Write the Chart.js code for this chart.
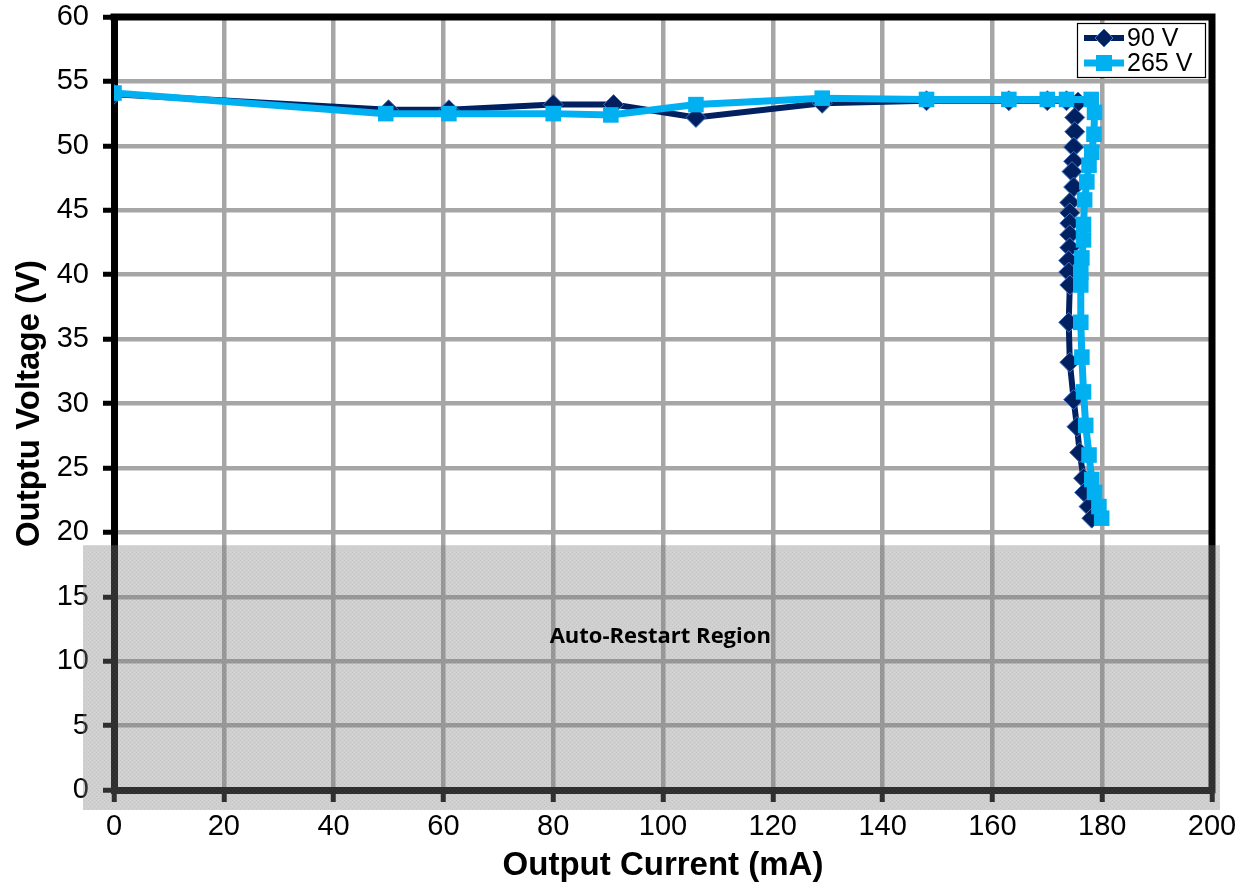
<!DOCTYPE html>
<html><head><meta charset="utf-8">
<script src="https://cdn.jsdelivr.net/npm/chart.js@4.4.1/dist/chart.umd.min.js"></script>
<style>html,body{margin:0;padding:0;background:#fff}#wrap{width:1250px;height:890px;position:relative}</style>
</head><body><div id="wrap"><canvas id="c" width="1250" height="890"></canvas></div>
<script>
// ---- data ----
const seriesNames = ['90 V', '265 V'];
const current90 = [0, 50, 61, 80, 91, 106, 129, 148, 163, 170, 173.5, 175.6, 175, 175, 174.8, 174.8, 174.5, 174.8, 174.1, 174.1, 174.1, 174.1, 174.1, 173.9, 173.9, 174.1, 173.9, 174.1, 174.8, 175.4, 175.9, 176.6, 176.8, 177.6, 178.1];
const voltage90 = [54.0, 52.8, 52.8, 53.2, 53.2, 52.2, 53.3, 53.5, 53.5, 53.5, 53.5, 53.4, 52.2, 51.1, 49.9, 48.8, 48.0, 46.8, 45.6, 44.8, 44.0, 43.1, 42.1, 41.1, 40.2, 39.2, 36.3, 33.2, 30.3, 28.2, 26.2, 24.2, 23.1, 22.0, 21.1];
const current265 = [0, 49.5, 61, 80, 90.5, 106, 129, 148, 163, 170, 173.5, 178, 178.6, 178.5, 178.1, 177.6, 177.2, 176.8, 176.6, 176.6, 176.3, 176.1, 176.1, 176.1, 176.3, 176.6, 177.0, 177.6, 178.1, 178.6, 179.4, 179.9];
const voltage265 = [54.1, 52.5, 52.5, 52.5, 52.4, 53.2, 53.7, 53.6, 53.6, 53.6, 53.6, 53.6, 52.6, 50.9, 49.5, 48.5, 47.2, 45.8, 43.9, 42.7, 41.3, 40.2, 39.2, 36.3, 33.6, 30.9, 28.3, 26.0, 24.1, 23.1, 22.0, 21.1];
const xTickRange = [0, 200, 20];   // min, max, step
const yTickRange = [0, 60, 5];
const xTitle = 'Output Current (mA)';
const yTitle = 'Outptu Voltage (V)';
const regionLabel = 'Auto-Restart Region';
const regionMaxVoltage = 19;

const navy = '#002060', sky = '#00B0F0';
const toPts = (xs, ys) => xs.map((x, i) => ({x, y: ys[i]}));

function makePattern(ctx) {
  const c = document.createElement('canvas'); c.width = 4; c.height = 4;
  const g = c.getContext('2d');
  g.fillStyle = 'rgba(128,128,128,0.37)'; g.fillRect(0, 0, 4, 4);
  g.fillStyle = 'rgba(0,0,0,0.05)';
  g.fillRect(0, 0, 1, 1); g.fillRect(2, 2, 1, 1);
  g.fillStyle = 'rgba(255,255,255,0.05)';
  g.fillRect(2, 0, 1, 1); g.fillRect(0, 2, 1, 1);
  return ctx.createPattern(c, 'repeat');
}

const decor = {
  id: 'decor',
  beforeDatasetsDraw(chart) {
    const {ctx, chartArea: a} = chart;
    ctx.save();
    ctx.strokeStyle = '#000'; ctx.lineWidth = 7;
    ctx.beginPath();
    ctx.moveTo(a.left - 3.5, a.top); ctx.lineTo(a.right, a.top); ctx.lineTo(a.right, a.bottom + 3.5);
    ctx.stroke();
    ctx.restore();
  },
  afterDatasetsDraw(chart) {
    const {ctx, chartArea: a} = chart;
    const bx = a.right - 135, by = a.top + 6, bw = 129, bh = 55;
    ctx.save();
    ctx.fillStyle = '#fff'; ctx.fillRect(bx, by, bw, bh);
    ctx.strokeStyle = '#000'; ctx.lineWidth = 1.2; ctx.strokeRect(bx + 0.5, by + 0.5, bw - 1, bh - 1);
    const rows = [{c: navy, w: 6, y: by + 15, m: 'd'}, {c: sky, w: 7, y: by + 40, m: 's'}];
    rows.forEach((r, i) => {
      ctx.strokeStyle = r.c; ctx.lineWidth = r.w; ctx.lineCap = 'butt';
      ctx.beginPath(); ctx.moveTo(bx + 7, r.y); ctx.lineTo(bx + 47, r.y); ctx.stroke();
      const cx = bx + 27;
      ctx.fillStyle = r.c;
      if (r.m === 'd') {
        ctx.beginPath(); ctx.moveTo(cx - 9, r.y); ctx.lineTo(cx, r.y - 9); ctx.lineTo(cx + 9, r.y); ctx.lineTo(cx, r.y + 9); ctx.closePath();
        ctx.fill(); ctx.strokeStyle = '#4472C4'; ctx.lineWidth = 1; ctx.stroke();
      } else {
        ctx.fillRect(cx - 8, r.y - 8, 16, 16);
      }
      ctx.fillStyle = '#000'; ctx.font = '25px "Liberation Sans", Arial, sans-serif';
      ctx.textBaseline = 'middle'; ctx.textAlign = 'left';
      ctx.fillText(seriesNames[i], bx + 50, r.y + 1);
    });
    ctx.restore();
  },
  afterDraw(chart) {
    const {ctx, chartArea: a, scales: {x, y}} = chart;
    const top = y.getPixelForValue(regionMaxVoltage);
    ctx.save();
    ctx.fillStyle = makePattern(ctx);
    ctx.fillRect(a.left - 31, top, (a.right + 8) - (a.left - 31), (a.bottom + 20) - top);
    ctx.fillStyle = '#000';
    ctx.font = 'bold 22px "Open Sans", "Liberation Sans", sans-serif';
    ctx.textAlign = 'center'; ctx.textBaseline = 'middle';
    ctx.fillText(regionLabel, x.getPixelForValue(99.5), y.getPixelForValue(11.9));
    ctx.restore();
  }
};

const tickFont = {family: '"Liberation Sans", Arial, sans-serif', size: 29};
const titleFont = {family: '"Liberation Sans", Arial, sans-serif', size: 33, weight: 'bold'};

new Chart(document.getElementById('c'), {
  type: 'line',
  data: {
    datasets: [
      {label: seriesNames[0], data: toPts(current90, voltage90), borderColor: navy, backgroundColor: navy,
       borderWidth: 6, pointStyle: 'rectRot', pointRadius: 10, pointBorderColor: '#4472C4', pointBorderWidth: 1,
       pointBackgroundColor: navy, tension: 0, order: 2},
      {label: seriesNames[1], data: toPts(current265, voltage265), borderColor: sky, backgroundColor: sky,
       borderWidth: 7, pointStyle: 'rect', pointRadius: 11, pointBorderWidth: 0, pointBorderColor: sky,
       pointBackgroundColor: sky, tension: 0, order: 1}
    ]
  },
  options: {
    responsive: false, animation: false, devicePixelRatio: 1,
    layout: {padding: {left: 0, right: 38, top: 0, bottom: 0}},
    plugins: {legend: {display: false}, tooltip: {enabled: false}},
    scales: {
      x: {type: 'linear', min: xTickRange[0], max: xTickRange[1],
          ticks: {stepSize: xTickRange[2], font: tickFont, color: '#000', padding: 8, maxRotation: 0},
          grid: {color: '#a6a6a6', lineWidth: 4.5, tickLength: 12, tickColor: '#000', tickWidth: 5},
          border: {color: '#000', width: 7},
          title: {display: true, text: xTitle, font: titleFont, color: '#000', padding: {top: 4, bottom: 4}},
          afterFit: s => { s.height = 100; }},
      y: {type: 'linear', min: yTickRange[0], max: yTickRange[1],
          ticks: {stepSize: yTickRange[2], font: tickFont, color: '#000', padding: 14},
          grid: {color: '#a6a6a6', lineWidth: 4.5, tickLength: 11, tickColor: '#000', tickWidth: 5},
          border: {color: '#000', width: 7},
          title: {display: true, text: yTitle, font: titleFont, color: '#000', padding: {top: 10, bottom: 0}},
          afterFit: s => { s.width = 114; s.paddingTop = 17; s.paddingBottom = 17; }}
    }
  },
  plugins: [decor]
});
</script></body></html>
